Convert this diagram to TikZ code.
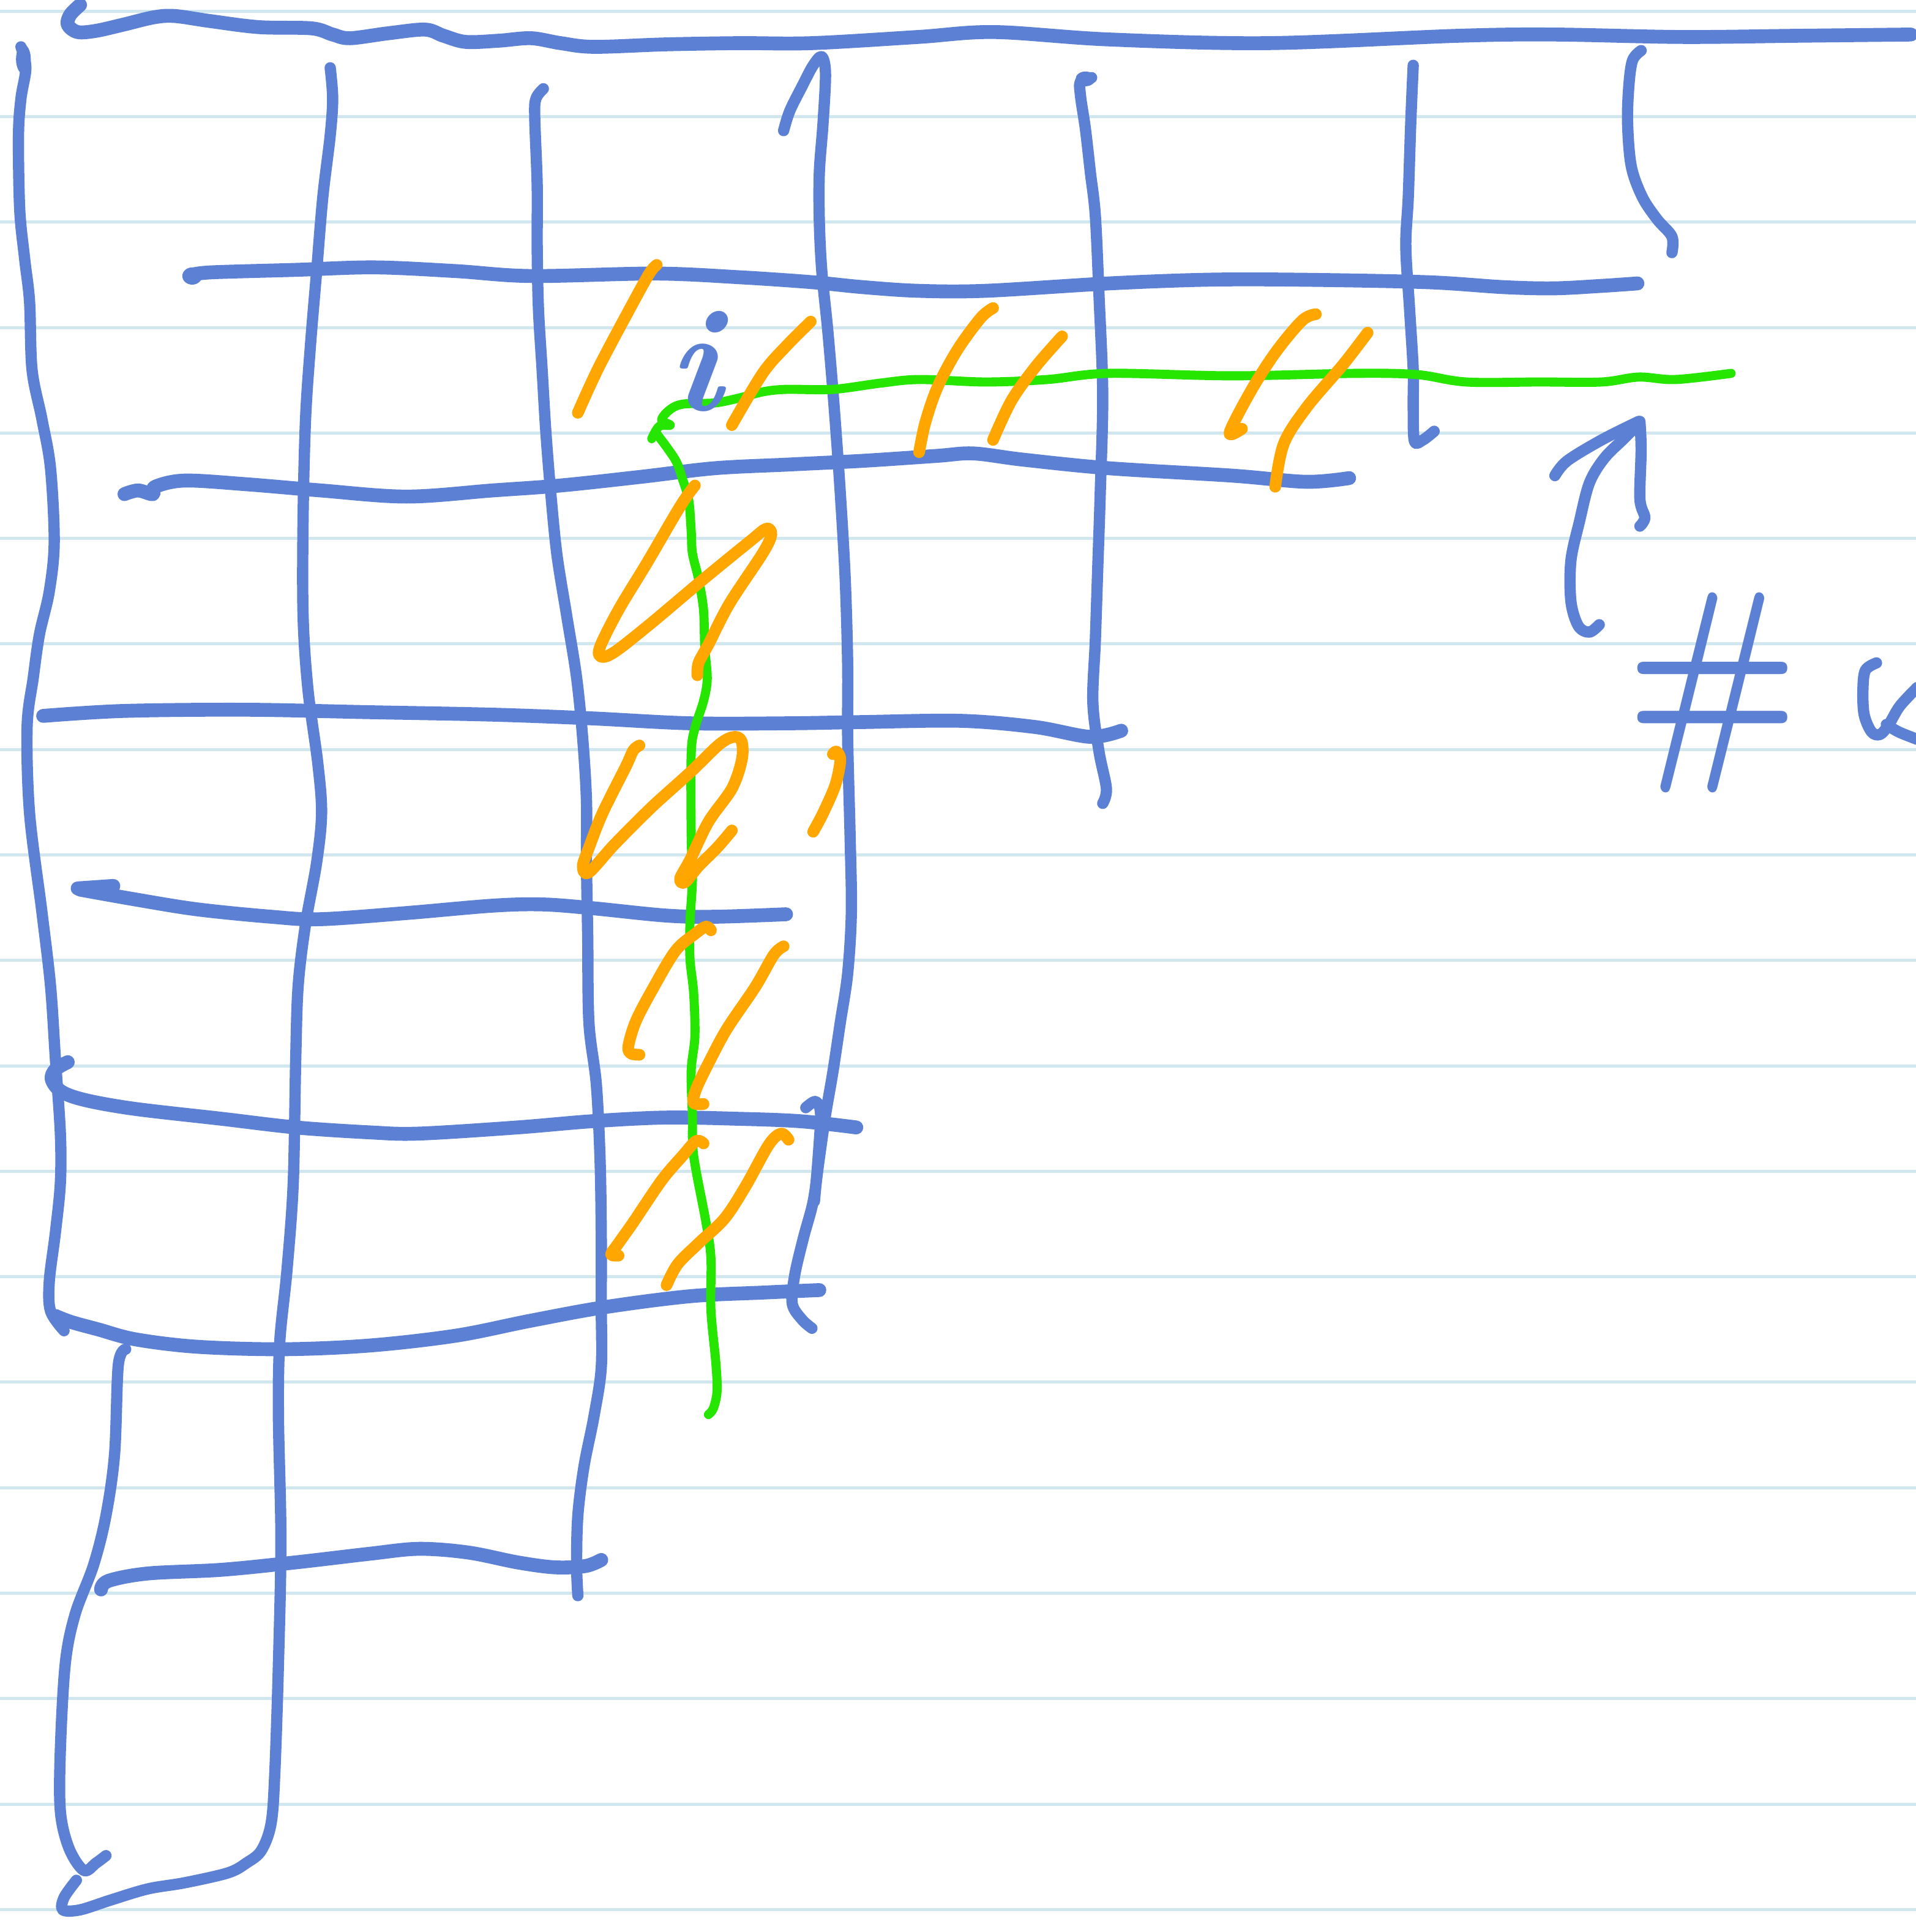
\documentclass[tikz,border=0pt]{standalone}
\usepackage{tikz}
\definecolor{bluec}{RGB}{92,129,212}
\definecolor{orangec}{RGB}{255,166,0}
\definecolor{greenc}{RGB}{38,230,0}
\definecolor{rulec}{RGB}{208,231,240}
\tikzset{
  ruled/.style={draw=rulec, line width=0.7pt},
  bl/.style={draw=bluec, line width=2.6pt, line cap=round, line join=round},
  blt/.style={draw=bluec, line width=3.2pt, line cap=round, line join=round},
  og/.style={draw=orangec, line width=2.7pt, line cap=round, line join=round},
  gr/.style={draw=greenc, line width=2.1pt, line cap=round, line join=round},
  sm/.style={smooth, tension=0.55}
}
\begin{document}
\begin{tikzpicture}[x=0.01cm, y=-0.01cm]
\useasboundingbox (0,0) rectangle (1555,1568);
\fill[white] (0,0) rectangle (1555,1568);
% ruled lines
\foreach \k in {0,...,18} {
  \draw[ruled] (0,{9+85.6*\k}) -- (1555,{9+85.6*\k});
}
% ---------------- blue grid ----------------
% top line
\draw[blt] plot[sm] coordinates {(65,4) (57,12) (55,20) (63,26) (78,25) (100,20) (125,14) (142,13) (170,17) (210,22) (253,23) (270,28) (284,31) (315,27) (345,24) (360,29) (378,34) (405,33) (431,31) (455,35) (482,38) (540,36) (600,35) (659,35) (745,30) (807,26) (900,32) (1029,35) (1184,29) (1261,28) (1365,30) (1460,29) (1551,28)};
% left column
\fill[bluec] (19,48) ellipse (6 and 12);
\draw[bl] plot[sm] coordinates {(17,38) (21,55) (17,80) (15,110) (16,170) (20,210) (24,245) (26,300) (34,340) (41,380) (44,440) (40,480) (32,515) (27,550) (22,590) (24,660) (34,740) (41,800) (45,860) (49,920) (49,960) (45,1000) (40,1040) (41,1064) (52,1080)};
% column 1 and bottom curve
\draw[bl] plot[sm] coordinates {(268,55) (270,80) (268,110) (262,160) (257,220) (252,280) (248,340) (246,420) (246,500) (250,560) (258,620) (261,660) (257,700) (248,750) (242,800) (240,860) (238,960) (233,1030) (227,1090) (226,1150) (228,1250) (226,1350) (223,1440) (220,1480) (212,1502) (200,1512) (185,1520) (150,1528) (120,1533) (90,1542) (65,1550) (51,1550) (52,1540) (62,1526)};
% lower left edge
\draw[bl] plot[sm] coordinates {(102,1095) (96,1108) (93,1180) (86,1230) (76,1270) (61,1310) (53,1350) (49,1420) (49,1470) (56,1500) (68,1518) (78,1512) (86,1506)};
% column 2
\draw[bl] plot[sm] coordinates {(441,72) (435,80) (434,95) (436,150) (436,200) (437,250) (440,300) (443,350) (447,400) (452,450) (460,500) (468,550) (473,600) (476,650) (476,700) (477,760) (478,830) (484,880) (487,940) (488,1000) (488,1060) (488,1110) (482,1150) (474,1190) (469,1230) (468,1270) (469,1295)};
% column 3
\draw[bl] plot[sm] coordinates {(636,106) (641,90) (651,70) (660,53) (667,46) (670,60) (668,100) (665,140) (665,180) (667,220) (672,270) (677,330) (682,400) (686,470) (688,540) (688,600) (690,680) (691,740) (688,790) (682,830) (676,870) (670,905) (665,940) (660,975) (652,1005) (645,1035) (643,1058) (651,1071) (659,1078)};
\draw[bl] plot[sm] coordinates {(654,899) (662,894) (666,904) (664,940) (661,975)};
% column 4
\fill[bluec] (881,64) ellipse (8 and 6);
\draw[bl] plot[sm] coordinates {(886,63) (877,66) (877,78) (881,105) (885,140) (889,175) (892,240) (895,320) (893,400) (891,460) (889,520) (887,570) (892,610) (898,640) (895,652)};
% column 5
\draw[bl] plot[sm] coordinates {(1147,53) (1145,100) (1143,160) (1141,200) (1144,250) (1147,300) (1147,330) (1148,358) (1155,357) (1164,350)};
% column 6
\draw[bl] plot[sm] coordinates {(1332,41) (1325,49) (1322,70) (1321,100) (1324,135) (1333,160) (1345,178) (1357,192) (1357,205)};
% row 1
\fill[bluec] (156,224) ellipse (8 and 7);
\draw[blt] plot[sm] coordinates {(156,223) (172,221) (240,219) (304,217) (370,220) (431,224) (532,222) (600,225) (659,229) (700,233) (745,236) (800,236) (900,230) (980,227) (1055,227) (1158,229) (1220,233) (1261,234) (1300,232) (1329,230)};
% row 2
\draw[blt] plot[sm] coordinates {(101,401) (112,398) (124,401) (126,395) (150,390) (200,393) (260,398) (330,403) (400,398) (455,394) (520,387) (580,380) (640,377) (700,374) (760,370) (790,368) (830,373) (900,380) (1000,386) (1060,391) (1095,388)};
% row 3
\draw[blt] plot[sm] coordinates {(35,581) (100,577) (200,576) (300,578) (400,580) (480,583) (560,587) (640,587) (700,586) (780,585) (840,590) (885,598) (910,593)};
% row 4
\draw[blt] (63,721) -- (92,719);
\draw[blt] plot[sm] coordinates {(65,722) (110,730) (160,738) (220,744) (260,746) (330,741) (400,735) (440,734) (480,737) (540,743) (580,744) (638,742)};
% row 5
\draw[blt] plot[sm] coordinates {(55,862) (45,868) (42,876) (50,886) (70,893) (110,900) (180,908) (240,915) (300,919) (340,920) (420,915) (480,910) (540,907) (600,908) (650,910) (695,915)};
% row 6
\draw[blt] plot[sm] coordinates {(45,1068) (58,1073) (80,1079) (110,1087) (160,1093) (230,1095) (300,1092) (370,1084) (430,1072) (490,1061) (560,1052) (620,1049) (665,1047)};
% row 7
\draw[blt] plot[sm] coordinates {(82,1290) (88,1283) (120,1277) (180,1274) (240,1268) (300,1261) (340,1257) (380,1260) (420,1268) (450,1272) (475,1271) (488,1266)};
% arrow
\draw[bl] plot[sm] coordinates {(1298,507) (1290,513) (1281,508) (1275,488) (1275,455) (1282,423) (1290,392) (1302,372) (1318,356) (1330,344)};
\draw[bl] plot[sm] coordinates {(1262,386) (1272,374) (1300,357) (1330,342)};
\draw[bl] plot[sm] coordinates {(1331,342) (1332,365) (1331,405) (1335,420) (1331,427)};
% partial letter at right edge
\draw[bl] plot[sm] coordinates {(1523,538) (1514,544) (1512,560) (1513,580) (1519,594) (1526,596) (1533,588) (1542,573) (1556,558)};
\draw[bl] plot[sm] coordinates {(1531,588) (1541,594) (1556,600)};
% ---------------- green path ----------------
\draw[gr] plot[sm] coordinates {(529,356) (535,346) (544,345) (537,341) (543,333) (554,328) (580,327) (600,323) (619,318) (638,316) (676,316) (714,311) (746,308) (800,310) (850,308) (900,303) (1000,305) (1100,303) (1150,304) (1190,310) (1250,310) (1300,310) (1330,306) (1360,308) (1405,303)};
\draw[gr] plot[sm] coordinates {(533,352) (548,373) (554,389) (559,406) (561,431) (562,449) (567,470) (571,495) (572,525) (574,551) (571,569) (564,591) (561,612) (561,678) (562,713) (560,749) (560,778) (563,806) (564,841) (561,869) (562,906) (563,938) (573,992) (577,1021) (577,1063) (581,1106) (582,1129) (579,1143) (575,1148)};
% ---------------- orange hatching ----------------
\draw[og] plot[sm] coordinates {(533,215) (527,222) (512,249) (486,298) (469,335)};
\draw[og] plot[sm] coordinates {(658,261) (638,281) (619,303) (594,345)};
\draw[og] plot[sm] coordinates {(806,250) (796,258) (777,284) (761,314) (751,343) (746,367)};
\draw[og] plot[sm] coordinates {(862,273) (841,297) (821,325) (806,357)};
\draw[og] plot[sm] coordinates {(1068,255) (1057,260) (1036,285) (1016,316) (998,351) (1008,348)};
\draw[og] plot[sm] coordinates {(1110,270) (1090,296) (1061,330) (1042,360) (1035,395)};
\draw[og] plot[sm] coordinates {(564,394) (552,411) (525,457) (502,495) (487,525) (488,533) (499,529) (527,507) (571,470) (609,439) (622,429) (626,434) (619,449) (592,490) (575,523) (567,538) (566,548)};
\draw[og] plot[sm] coordinates {(519,605) (514,609) (508,622) (489,660) (478,688) (473,703) (478,708) (499,685) (529,655) (560,627) (584,604) (596,598) (602,602) (602,617) (594,640) (575,667) (560,698) (552,713) (556,716) (567,703) (582,688) (594,674)};
\draw[og] plot[sm] coordinates {(676,612) (679,610) (682,617) (678,637) (668,660) (660,675)};
\draw[og] plot[sm] coordinates {(577,755) (573,752) (564,758) (548,772) (529,804) (516,829) (510,849) (512,855) (519,856)};
\draw[og] plot[sm] coordinates {(636,768) (628,775) (613,801) (590,835) (575,863) (565,884) (563,895) (571,896)};
\draw[og] plot[sm] coordinates {(571,928) (565,926) (554,938) (537,958) (514,992) (502,1009) (496,1018) (502,1019)};
\draw[og] plot[sm] coordinates {(640,925) (634,920) (624,929) (605,963) (588,989) (567,1009) (550,1026) (541,1043)};
% ---------------- handwritten text ----------------
\node[text=bluec, font=\fontsize{34}{36}\selectfont\bfseries\itshape, anchor=base, inner sep=0pt] (ilabel) at (564,333) {i};
\node[text=bluec, font=\fontsize{52}{54}\selectfont\bfseries, inner sep=0pt, xscale=0.82] (hash) at (1390,562) {\#};
\end{tikzpicture}
\end{document}
